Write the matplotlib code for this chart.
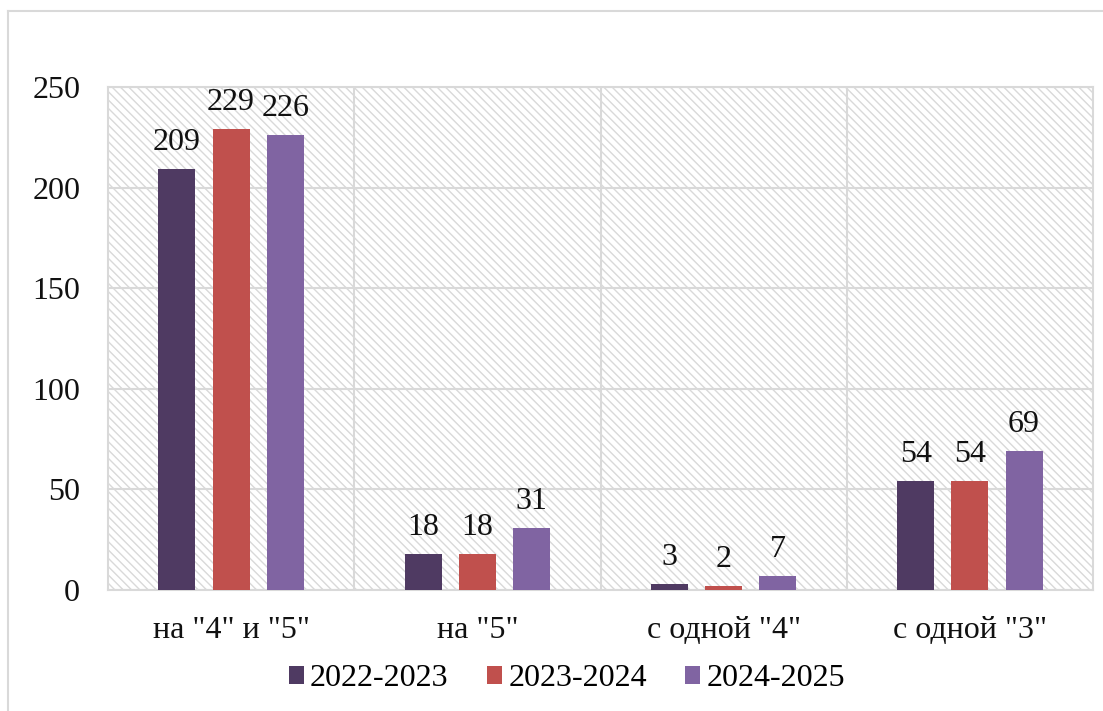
import numpy as np
import matplotlib.pyplot as plt
from matplotlib.patches import Rectangle

plt.rcParams['font.family'] = ['Liberation Serif', 'DejaVu Serif']
plt.rcParams['hatch.color'] = '#d9d9d9'
plt.rcParams['hatch.linewidth'] = 1.0

categories = ['на "4" и "5"', 'на "5"', 'с одной "4"', 'с одной "3"']
years = ['2022-2023', '2023-2024', '2024-2025']
vals_2022 = [209, 18, 3, 54]
vals_2023 = [229, 18, 2, 54]
vals_2024 = [226, 31, 7, 69]
colors = ['#4f3a62', '#c0504d', '#8064a2']

fig = plt.figure(figsize=(11.03, 7.11), dpi=100)
ax = fig.add_axes([108 / 1103, 1 - 590 / 711, 985 / 1103, 503 / 711])

# hatched background of the plot area
bg = Rectangle((0, 0), 1, 1, transform=ax.transAxes, facecolor='white',
               edgecolor='#d9d9d9', hatch='\\\\\\\\', linewidth=0, zorder=0)
ax.add_patch(bg)

x = np.arange(len(categories))
w = 0.15
off = 0.22
for i, (vals, lab) in enumerate(zip([vals_2022, vals_2023, vals_2024], years)):
    bars = ax.bar(x + (i - 1) * off, vals, w, color=colors[i], label=lab, zorder=3)
    for b, v in zip(bars, vals):
        ax.text(b.get_x() + b.get_width() / 2, v + 6, str(v), ha='center', va='bottom',
                fontsize=23, color='#111111', zorder=4)

ax.set_xlim(-0.5, 3.5)
ax.set_ylim(0, 250)
ax.set_yticks([0, 50, 100, 150, 200, 250])
ax.set_xticks(x)
ax.set_xticklabels(categories)
ax.set_xticks([0.5, 1.5, 2.5], minor=True)
ax.grid(True, axis='y', color='#d9d9d9', linewidth=1.5, zorder=1)
ax.grid(True, axis='x', which='minor', color='#d9d9d9', linewidth=1.5, zorder=1)
ax.tick_params(axis='both', length=0, labelsize=23, colors='#111111')
ax.tick_params(axis='x', which='minor', length=0)
ax.tick_params(axis='x', pad=19)
ax.tick_params(axis='y', pad=20)
for s in ax.spines.values():
    s.set_color('#d9d9d9')
    s.set_linewidth(1.5)

ax.legend(loc='center', bbox_to_anchor=(0.466, -0.176), ncol=3, frameon=False,
          fontsize=23, handlelength=0.47, handleheight=0.5, handletextpad=0.2,
          columnspacing=1.2)

# outer chart border (left and top)
fig.add_artist(plt.Line2D([8 / 1103, 8 / 1103], [0, 1 - 11 / 711], color='#d9d9d9', lw=1.5))
fig.add_artist(plt.Line2D([8 / 1103, 1], [1 - 11 / 711, 1 - 11 / 711], color='#d9d9d9', lw=1.5))

fig.savefig('out.png', dpi=100)
